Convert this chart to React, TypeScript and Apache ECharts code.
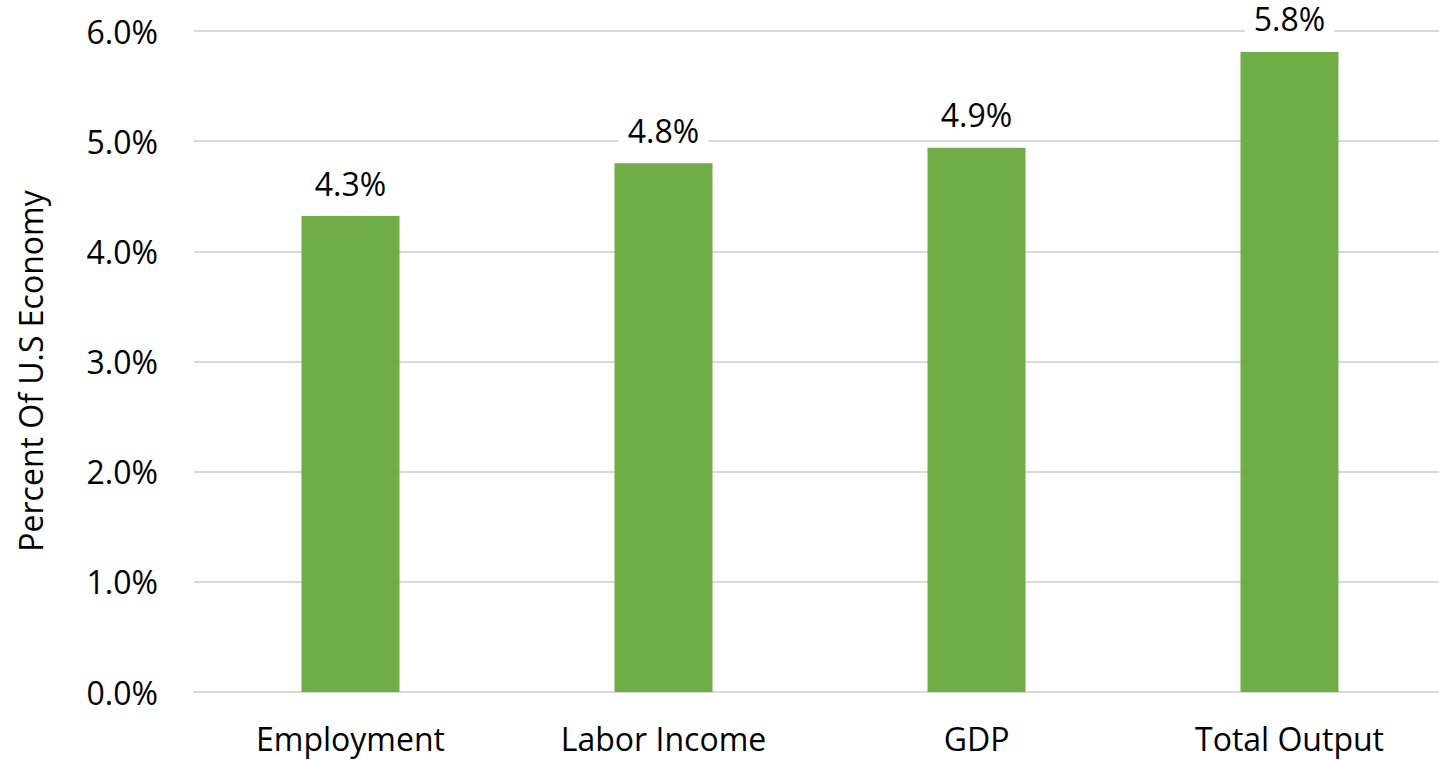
import React, { useEffect, useRef } from "react";
import * as echarts from "echarts";

const categories = ["Employment", "Labor Income", "GDP", "Total Output"];
const values = [4.32, 4.8, 4.94, 5.81];
const yTicks = [0, 1, 2, 3, 4, 5, 6];
const yAxisTitle = "Percent Of U.S Economy";

const FONT = "'Open Sans', 'Noto Sans', sans-serif";

export default function App() {
  const ref = useRef<HTMLDivElement>(null);
  useEffect(() => {
    if (!ref.current) return;
    const chart = echarts.init(ref.current, undefined, { renderer: "svg" });
    chart.setOption({
      animation: false,
      backgroundColor: "#ffffff",
      textStyle: { fontFamily: FONT },
      grid: { left: 194, top: 31, width: 1252, height: 661, containLabel: false },
      graphic: [
        {
          type: "text",
          x: 30,
          y: 371,
          rotation: Math.PI / 2,
          style: {
            text: yAxisTitle,
            fill: "#000",
            font: `32px ${FONT}`,
            align: "center",
            verticalAlign: "middle",
          },
        },
      ],
      xAxis: {
        type: "category",
        data: categories,
        axisTick: { show: false },
        axisLine: { show: true, lineStyle: { color: "#d9d9d9", width: 2 } },
        axisLabel: { color: "#000", fontSize: 32, fontFamily: FONT, margin: 30 },
      },
      yAxis: {
        type: "value",
        min: yTicks[0],
        max: yTicks[yTicks.length - 1],
        interval: 1,
        axisLine: { show: false },
        axisTick: { show: false },
        splitLine: { show: true, lineStyle: { color: "#d9d9d9", width: 2 } },
        axisLabel: {
          color: "#000",
          fontSize: 32,
          fontFamily: FONT,
          margin: 36,
          formatter: (v: number) => v.toFixed(1) + "%",
        },
      },
      series: [
        {
          type: "bar",
          data: values,
          barWidth: 98,
          itemStyle: { color: "#70AD47" },
          label: {
            show: true,
            position: "top",
            distance: 17,
            color: "#000",
            fontSize: 32,
            fontFamily: FONT,
            backgroundColor: "#ffffff",
            padding: [0, 9],
            formatter: (p: any) => p.value.toFixed(1) + "%",
          },
        },
      ],
    });
    return () => chart.dispose();
  }, []);
  return (
    <div
      style={{
        position: "absolute",
        left: 0,
        top: 0,
        width: 1439,
        height: 760,
        overflow: "hidden",
      }}
    >
      <div ref={ref} style={{ width: 1450, height: 760 }} />
    </div>
  );
}
